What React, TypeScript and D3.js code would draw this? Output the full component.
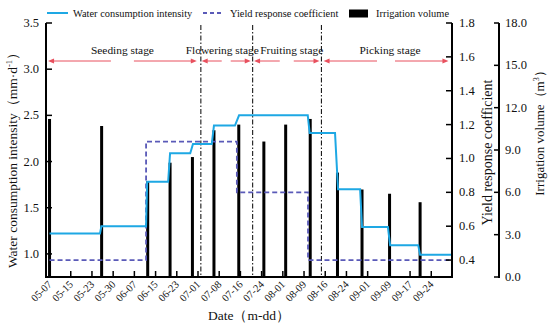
import React from "react";
import * as d3 from "d3";

// ---- data (days since 05-07) ----
const xTickLabels = ["05-07","05-15","05-23","05-30","06-07","06-15","06-23","07-01","07-08","07-16","07-24","08-01","08-09","08-16","08-24","09-01","09-09","09-17","09-24"];

const wciStart = [0, 19, 35.8, 44.2, 52.6, 60.3, 69.5, 95.4, 105.8, 114.6, 124.9, 135.9];
const wciEnd   = [18.5, 35.4, 43.5, 51.6, 59.5, 68, 94.7, 104.7, 113.9, 124.1, 135.2, 147.6];
const wciValue = [1.22, 1.30, 1.78, 2.09, 2.19, 2.39, 2.50, 2.31, 1.70, 1.29, 1.095, 0.99];

const yrcStart = [0, 35.4, 68.7, 94.8];
const yrcEnd   = [35.4, 68.7, 94.8, 147.6];
const yrcValue = [0.4, 1.1, 0.8, 0.4];

const irrDays   = [0, 19.1, 36, 44.2, 52.4, 60.3, 69.4, 78.6, 86.6, 95.6, 105.6, 114.6, 124.7, 135.9];
const irrValues = [11.2, 10.7, 6.8, 8.1, 8.5, 10.4, 10.8, 9.6, 10.8, 11.2, 7.4, 6.2, 5.9, 5.3];

const stageNames = ["Seeding stage", "Flowering stage", "Fruiting stage", "Picking stage"];
const stageStart = [-0.55, 55.8, 75.0, 100.5];
const stageEnd   = [54.0, 73.8, 99.0, 146.3];
const stageLines = [55.5, 74.5, 99.7];

const leftTicks = [1.0, 1.5, 2.0, 2.5, 3.0, 3.5];
const r1Ticks = [0.4, 0.6, 0.8, 1.0, 1.2, 1.4, 1.6, 1.8];
const r2Ticks = [0, 3, 6, 9, 12, 15, 18];

// ---- layout ----
const W = 550, H = 327;
const L = 46, R = 452, T = 23, B = 277;
const R2 = 499;
const BLUE = "#1ea8e4";
const PURPLE = "#5a5ab8";
const RED = "#e8505e";
const FONT = "'Liberation Serif', 'Times New Roman', serif";
const stageGap = [11.5, 4.5, 7, 9];
const stageLabelDx = [0, -4, 5, 4];

export default function App() {
  const x = d3.scaleLinear().domain([-1.3, 147.6]).range([L, R]);
  const yL = d3.scaleLinear().domain([0.75, 3.5]).range([B, T]);
  const yR1 = d3.scaleLinear().domain([0.3, 1.8]).range([B, T]);
  const yR2 = d3.scaleLinear().domain([0, 18]).range([B, T]);

  const tickStep = 140 / 18;
  const xTicks = xTickLabels.map((_, i) => i * tickStep);

  const wciPts: [number, number][] = [];
  wciStart.forEach((s, i) => {
    wciPts.push([x(s), yL(wciValue[i])]);
    wciPts.push([x(wciEnd[i]), yL(wciValue[i])]);
  });
  const yrcPts: [number, number][] = [];
  yrcStart.forEach((s, i) => {
    yrcPts.push([x(s), yR1(yrcValue[i])]);
    yrcPts.push([x(yrcEnd[i]), yR1(yrcValue[i])]);
  });
  const line = d3.line();

  const arrowY = 61;
  const head = (px: number, dir: number) =>
    `M${px},${arrowY} L${px - dir * 6},${arrowY - 2.5} L${px - dir * 6},${arrowY + 2.5} Z`;

  return (
    <svg width={W} height={H} style={{ position: "absolute", left: 0, top: 0, background: "#fff" }} fontFamily={FONT}>
      {/* stage dash-dot lines */}
      {stageLines.map((d, i) => (
        <line key={"sl" + i} x1={x(d)} x2={x(d)} y1={T + 2} y2={B} stroke="#000" strokeWidth={1} strokeDasharray="5,2,1.5,2" />
      ))}

      {/* irrigation bars */}
      {irrDays.map((d, i) => (
        <rect key={"b" + i} x={x(d) - 1.5} width={3} y={yR2(irrValues[i])} height={B - yR2(irrValues[i])} fill="#000" />
      ))}

      {/* yield response coefficient */}
      <path d={line(yrcPts) || ""} fill="none" stroke={PURPLE} strokeWidth={1.8} strokeDasharray="5,3" />
      {/* water consumption intensity */}
      <path d={line(wciPts) || ""} fill="none" stroke={BLUE} strokeWidth={2} />

      {/* stages */}
      {stageNames.map((n, i) => {
        const a = x(stageStart[i]);
        const b = x(stageEnd[i]);
        const m = (a + b) / 2;
        const g = stageGap[i];
        return (
          <g key={"st" + i}>
            <text x={m + stageLabelDx[i]} y={54} textAnchor="middle" fontSize={11.4} fill="#111">{n}</text>
            <line x1={a + 5} x2={m - g} y1={arrowY} y2={arrowY} stroke={RED} strokeWidth={1} />
            <line x1={m + g} x2={b - 5} y1={arrowY} y2={arrowY} stroke={RED} strokeWidth={1} />
            <path d={head(a, -1)} fill={RED} />
            <path d={head(b, 1)} fill={RED} />
          </g>
        );
      })}

      {/* axes lines */}
      <line x1={L} x2={L} y1={T} y2={B + 1} stroke="#000" strokeWidth={2} />
      <line x1={L - 1} x2={R + 1} y1={B} y2={B} stroke="#000" strokeWidth={2} />
      <line x1={R} x2={R} y1={T} y2={B + 1} stroke="#000" strokeWidth={2} />
      <line x1={R2} x2={R2} y1={T} y2={B + 1} stroke="#000" strokeWidth={2} />

      {/* x ticks */}
      {xTicks.map((t, i) => (
        <g key={"xt" + i}>
          <line x1={x(t)} x2={x(t)} y1={B} y2={B - 6} stroke="#000" strokeWidth={1.5} />
          <text transform={`translate(${x(t) + 3},${B + 8}) rotate(-45)`} textAnchor="end" fontSize={10.5} fill="#111">{xTickLabels[i]}</text>
        </g>
      ))}

      {/* left ticks */}
      {leftTicks.map((t, i) => (
        <g key={"lt" + i}>
          <line x1={L} x2={L + 6} y1={yL(t)} y2={yL(t)} stroke="#000" strokeWidth={1.5} />
          <text x={L - 7} y={yL(t) + 4} textAnchor="end" fontSize={12.5} fill="#111">{t.toFixed(1)}</text>
        </g>
      ))}
      {/* right ticks 1 */}
      {r1Ticks.map((t, i) => (
        <g key={"r1" + i}>
          <line x1={R} x2={R - 6} y1={yR1(t)} y2={yR1(t)} stroke="#000" strokeWidth={1.5} />
          <text x={R + 7} y={yR1(t) + 4} textAnchor="start" fontSize={12.5} fill="#111">{t.toFixed(1)}</text>
        </g>
      ))}
      {/* right ticks 2 */}
      {r2Ticks.map((t, i) => (
        <g key={"r2" + i}>
          <line x1={R2} x2={R2 - 5} y1={yR2(t)} y2={yR2(t)} stroke="#000" strokeWidth={1.5} />
          <text x={R2 + 6} y={yR2(t) + 4} textAnchor="start" fontSize={12.5} fill="#111">{t.toFixed(1)}</text>
        </g>
      ))}

      {/* axis titles */}
      <text transform={`translate(17,157) rotate(-90)`} textAnchor="middle" fontSize={13.5} fill="#111">
        Water consumption intensity（mm·d<tspan fontSize={8.5} dy={-5}>-1</tspan><tspan dy={5}>）</tspan>
      </text>
      <text x={249} y={320} textAnchor="middle" fontSize={13.5} fill="#111">Date（m-dd）</text>
      <text transform={`translate(492,152.5) rotate(-90)`} textAnchor="middle" fontSize={14} fill="#111">Yield response coefficient</text>
      <text transform={`translate(544,130) rotate(-90)`} textAnchor="middle" fontSize={13} fill="#111">
        Irrigation volume（m<tspan fontSize={8} dy={-5}>3</tspan><tspan dy={5}>）</tspan>
      </text>

      {/* legend */}
      <line x1={47} x2={68} y1={13} y2={13} stroke={BLUE} strokeWidth={2} />
      <text x={73} y={16.5} fontSize={10.4} fill="#111">Water consumption intensity</text>
      <line x1={203} x2={224} y1={13} y2={13} stroke={PURPLE} strokeWidth={1.8} strokeDasharray="4,3" />
      <text x={230} y={16.5} fontSize={10.4} fill="#111">Yield response coefficient</text>
      <rect x={349} y={9.5} width={19} height={8} fill="#000" />
      <text x={376} y={16.5} fontSize={10.4} fill="#111">Irrigation volume</text>
    </svg>
  );
}
